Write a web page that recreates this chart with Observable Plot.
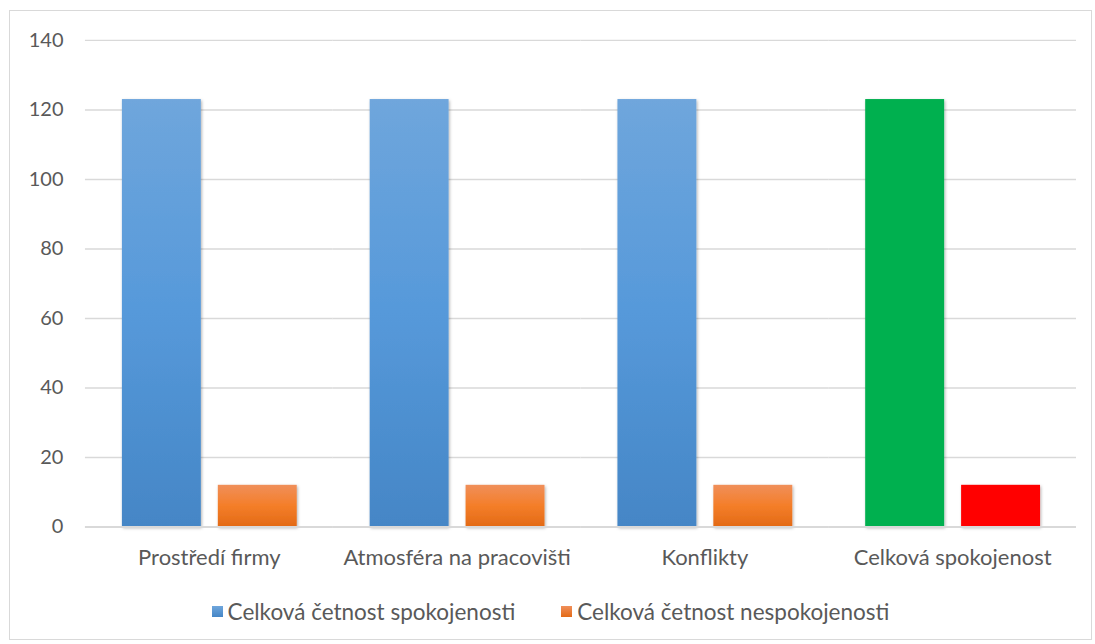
<!DOCTYPE html>
<html>
<head>
<meta charset="utf-8">
<script src="https://cdn.jsdelivr.net/npm/d3@7"></script>
<script src="https://cdn.jsdelivr.net/npm/@observablehq/plot@0.6"></script>
<style>
  html, body { margin: 0; padding: 0; background: #fff; }
  #frame { position: absolute; left: 9px; top: 10px; width: 1083px; height: 630px; border: 1px solid #d9d9d9; box-sizing: border-box; }
  #chart svg { display: block; }
  #legend { position: absolute; left: 0; right: 0; top: 584px; text-align: center; font-family: Lato, "Open Sans", sans-serif; font-size: 22.5px; color: #595959; white-space: nowrap; }
  .item { display: inline-flex; align-items: center; margin: 0 23px; }
  .sw { width: 11px; height: 11px; margin-right: 5px; display: inline-block; }
</style>
</head>
<body>
<div id="frame">
  <div id="chart"></div>
  <div id="legend"></div>
</div>
<script>
const categories = ["Prostředí firmy", "Atmosféra na pracovišti", "Konflikty", "Celková spokojenost"];
const seriesNames = ["Celková četnost spokojenosti", "Celková četnost nespokojenosti"];
const spokojenost = [123, 123, 123, 123];
const nespokojenost = [12, 12, 12, 12];
const yTicks = [0, 20, 40, 60, 80, 100, 120, 140];

const data = [];
categories.forEach((c, i) => {
  data.push({category: c, series: seriesNames[0], value: spokojenost[i], idx: i});
  data.push({category: c, series: seriesNames[1], value: nespokojenost[i], idx: i});
});
const highlight = categories[3];

const font = 'Lato, "Open Sans", sans-serif';
const chart = Plot.plot({
  width: 1082,
  height: 575,
  marginLeft: 75,
  marginRight: 15,
  marginTop: 29,
  marginBottom: 59,
  style: {fontFamily: font, fontSize: "22px", color: "#595959", background: "white"},
  fx: {domain: categories, padding: 0, label: null},
  x: {domain: seriesNames, paddingInner: 0.179, paddingOuter: 0.38, axis: null},
  y: {domain: [0, 140], ticks: yTicks, label: null},
  marks: [
    Plot.gridY(yTicks, {stroke: "#d9d9d9", strokeOpacity: 1, strokeWidth: 1.3}),
    Plot.axisY(yTicks, {tickSize: 0, tickPadding: 22, fontSize: 20, fill: "#595959", label: null}),
    Plot.axisFx({anchor: "bottom", tickSize: 0, tickPadding: 22, fontSize: 22, fill: "#595959", label: null}),
    Plot.barY(data.filter(d => d.series === seriesNames[0] && d.category !== highlight), {fx: "category", x: "series", y: "value", fill: "url(#gBlue)"}),
    Plot.barY(data.filter(d => d.series === seriesNames[1] && d.category !== highlight), {fx: "category", x: "series", y: "value", fill: "url(#gOrange)"}),
    Plot.barY(data.filter(d => d.series === seriesNames[0] && d.category === highlight), {fx: "category", x: "series", y: "value", fill: "#00b050"}),
    Plot.barY(data.filter(d => d.series === seriesNames[1] && d.category === highlight), {fx: "category", x: "series", y: "value", fill: "#ff0000"}),
    Plot.ruleY([0], {stroke: "#d9d9d9", strokeWidth: 2})
  ]
});

const svg = d3.select(chart);
const defs = svg.insert("defs", ":first-child");
const gb = defs.append("linearGradient").attr("id", "gBlue").attr("x1", 0).attr("y1", 0).attr("x2", 0).attr("y2", 1);
gb.append("stop").attr("offset", "0%").attr("stop-color", "#6fa6dc");
gb.append("stop").attr("offset", "50%").attr("stop-color", "#5699da");
gb.append("stop").attr("offset", "100%").attr("stop-color", "#4586c6");
const go = defs.append("linearGradient").attr("id", "gOrange").attr("x1", 0).attr("y1", 0).attr("x2", 0).attr("y2", 1);
go.append("stop").attr("offset", "0%").attr("stop-color", "#f08f5a");
go.append("stop").attr("offset", "50%").attr("stop-color", "#f47e29");
go.append("stop").attr("offset", "100%").attr("stop-color", "#e36a16");
const f = defs.append("filter").attr("id", "shadow").attr("x", "-20%").attr("y", "-20%").attr("width", "140%").attr("height", "140%");
f.append("feDropShadow").attr("dx", 1).attr("dy", 1.5).attr("stdDeviation", 1.6).attr("flood-color", "#000").attr("flood-opacity", 0.3);
svg.selectAll("g[aria-label=bar] rect").attr("filter", "url(#shadow)");

document.getElementById("chart").appendChild(chart);

const legend = document.getElementById("legend");
const legendFills = ["linear-gradient(#6fa6dc, #4586c6)", "linear-gradient(#f08f5a, #e36a16)"];
seriesNames.forEach((s, i) => {
  const it = document.createElement("span");
  it.className = "item";
  const sw = document.createElement("span");
  sw.className = "sw";
  sw.style.background = legendFills[i];
  it.appendChild(sw);
  it.appendChild(document.createTextNode(s));
  legend.appendChild(it);
});
</script>
</body>
</html>
